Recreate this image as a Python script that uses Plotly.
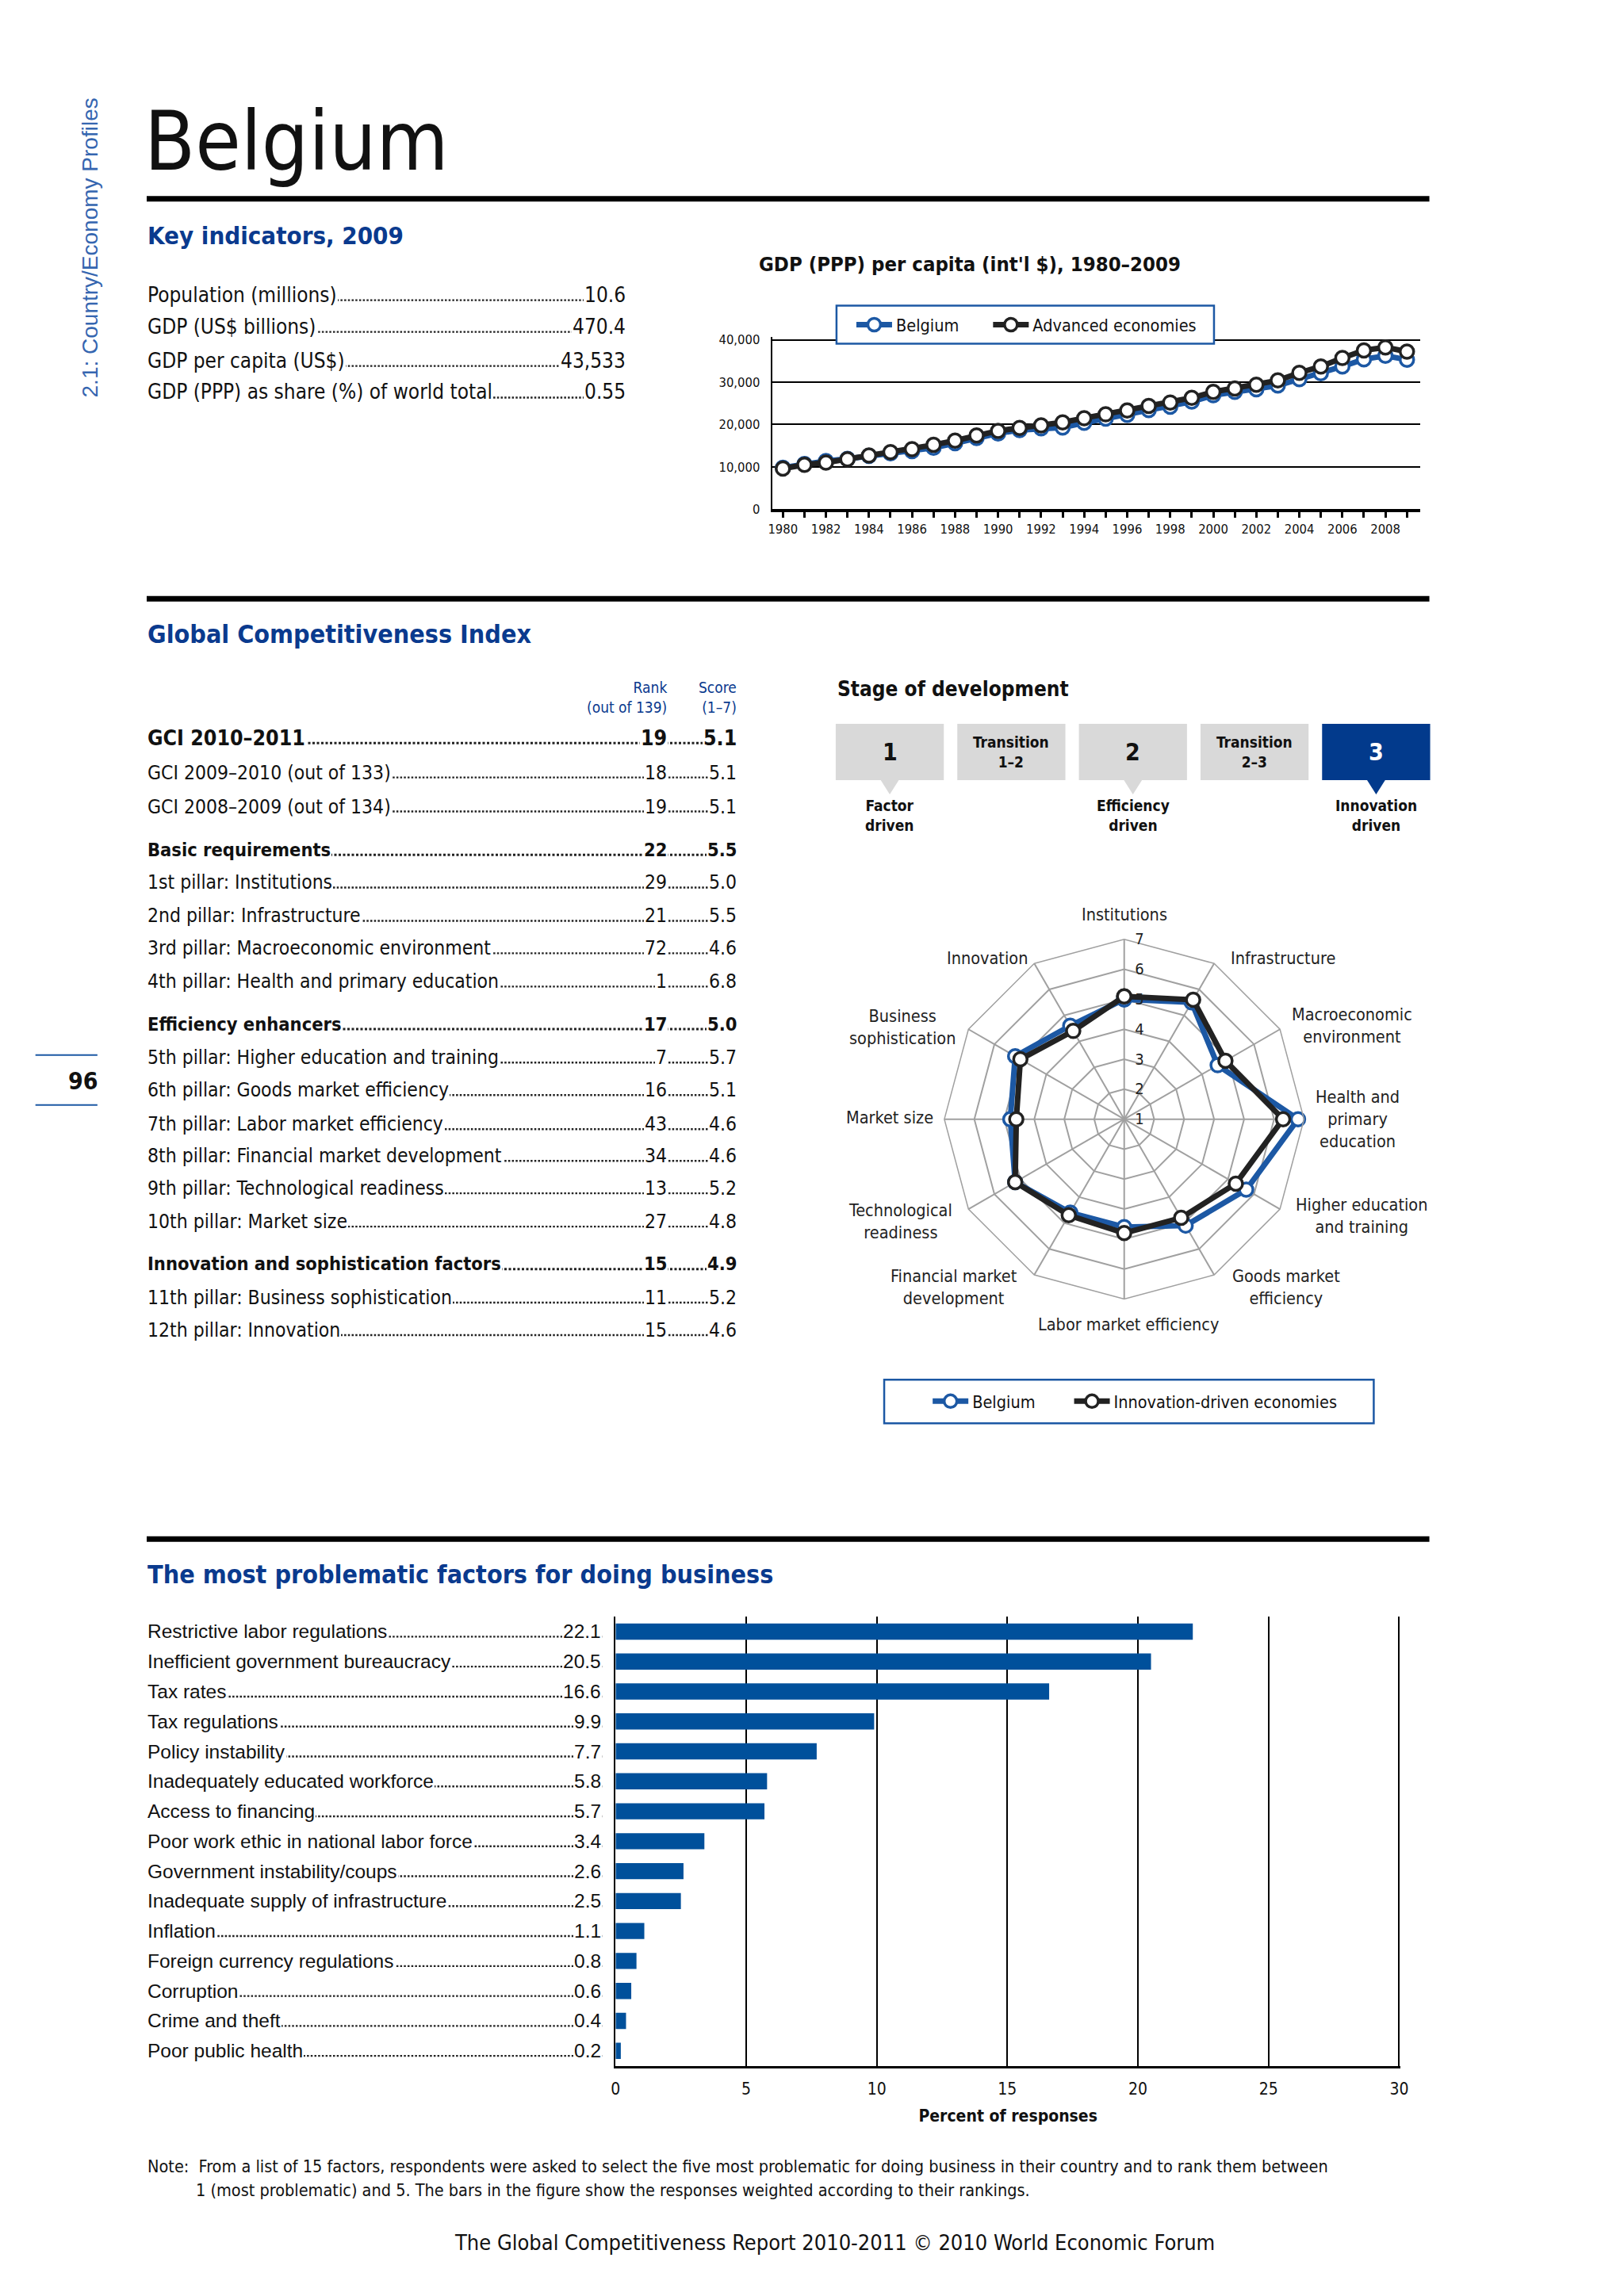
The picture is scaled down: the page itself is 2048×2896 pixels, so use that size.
import plotly.graph_objects as go

W, H = 2048, 2896

# ======================= DATA =======================
country_name = "Belgium"
side_caption = "2.1: Country/Economy Profiles"
page_number = "96"

key_title = "Key indicators, 2009"
key_labels = [
    "Population (millions)",
    "GDP (US$ billions)",
    "GDP per capita (US$)",
    "GDP (PPP) as share (%) of world total",
]
key_values = ["10.6", "470.4", "43,533", "0.55"]

gdp_title = "GDP (PPP) per capita (int'l $), 1980–2009"
gdp_years = [1980, 1981, 1982, 1983, 1984, 1985, 1986, 1987, 1988, 1989,
             1990, 1991, 1992, 1993, 1994, 1995, 1996, 1997, 1998, 1999,
             2000, 2001, 2002, 2003, 2004, 2005, 2006, 2007, 2008, 2009]
gdp_year_labels = ["1980", "", "1982", "", "1984", "", "1986", "", "1988", "",
                   "1990", "", "1992", "", "1994", "", "1996", "", "1998", "",
                   "2000", "", "2002", "", "2004", "", "2006", "", "2008", ""]
gdp_belgium = [9800, 10700, 11400, 11900, 12600, 13200, 13700, 14500, 15600, 16800,
               17900, 18700, 19100, 19300, 20400, 21400, 22300, 23400, 24200, 25400,
               26900, 27700, 28300, 29200, 30700, 32100, 33700, 35400, 36200, 35300]
gdp_advanced = [9600, 10500, 11000, 11800, 12700, 13500, 14200, 15200, 16200, 17400,
                18500, 19200, 19800, 20500, 21500, 22400, 23300, 24400, 25200, 26300,
                27700, 28500, 29400, 30400, 32200, 33700, 35700, 37500, 38200, 37200]
gdp_value_ticks = [0, 10000, 20000, 30000, 40000]
gdp_series_names = ["Belgium", "Advanced economies"]

gci_title = "Global Competitiveness Index"
gci_rank_header = "Rank<br>(out of 139)"
gci_score_header = "Score<br>(1–7)"
gci_labels = [
    "GCI 2010–2011",
    "GCI 2009–2010 (out of 133)",
    "GCI 2008–2009 (out of 134)",
    "Basic requirements",
    "1st pillar: Institutions",
    "2nd pillar: Infrastructure",
    "3rd pillar: Macroeconomic environment",
    "4th pillar: Health and primary education",
    "Efficiency enhancers",
    "5th pillar: Higher education and training",
    "6th pillar: Goods market efficiency",
    "7th pillar: Labor market efficiency",
    "8th pillar: Financial market development",
    "9th pillar: Technological readiness",
    "10th pillar: Market size",
    "Innovation and sophistication factors",
    "11th pillar: Business sophistication",
    "12th pillar: Innovation",
]
gci_ranks = ["19", "18", "19", "22", "29", "21", "72", "1", "17", "7", "16", "43",
             "34", "13", "27", "15", "11", "15"]
gci_scores = ["5.1", "5.1", "5.1", "5.5", "5.0", "5.5", "4.6", "6.8", "5.0", "5.7",
              "5.1", "4.6", "4.6", "5.2", "4.8", "4.9", "5.2", "4.6"]

stage_title = "Stage of development"
stage_names = ["1", "Transition<br>1–2", "2", "Transition<br>2–3", "3"]
stage_captions = ["Factor<br>driven", "", "Efficiency<br>driven", "", "Innovation<br>driven"]
current_stage = "3"

pillar_names = ["Institutions", "Infrastructure", "Macroeconomic<br>environment",
                "Health and<br>primary<br>education", "Higher education<br>and training",
                "Goods market<br>efficiency", "Labor market efficiency",
                "Financial market<br>development", "Technological<br>readiness",
                "Market size", "Business<br>sophistication", "Innovation"]
belgium_scores = [5.0, 5.5, 4.6, 6.8, 5.7, 5.1, 4.6, 4.6, 5.2, 4.8, 5.2, 4.6]
innovation_scores = [5.1, 5.6, 4.9, 6.3, 5.3, 4.8, 4.8, 4.7, 5.2, 4.6, 5.0, 4.4]
score_ticks = [1, 2, 3, 4, 5, 6, 7]
radar_series_names = ["Belgium", "Innovation-driven economies"]

factors_title = "The most problematic factors for doing business"
factor_names = [
    "Restrictive labor regulations",
    "Inefficient government bureaucracy",
    "Tax rates",
    "Tax regulations",
    "Policy instability",
    "Inadequately educated workforce",
    "Access to financing",
    "Poor work ethic in national labor force",
    "Government instability/coups",
    "Inadequate supply of infrastructure",
    "Inflation",
    "Foreign currency regulations",
    "Corruption",
    "Crime and theft",
    "Poor public health",
]
factor_values = [22.1, 20.5, 16.6, 9.9, 7.7, 5.8, 5.7, 3.4, 2.6, 2.5, 1.1, 0.8, 0.6, 0.4, 0.2]
percent_ticks = [0, 5, 10, 15, 20, 25, 30]
percent_axis_title = "Percent of responses"

note_lines = [
    "Note:  From a list of 15 factors, respondents were asked to select the five most problematic for doing business in their country and to rank them between",
    "1 (most problematic) and 5. The bars in the figure show the responses weighted according to their rankings.",
]
footer_text = "The Global Competitiveness Report 2010-2011 © 2010 World Economic Forum"

# ======================= STYLE / LAYOUT =======================
NARROW = "DejaVu Sans Condensed, Liberation Sans Narrow, Arial Narrow, sans-serif"
SANS = "Liberation Sans, Arial, Helvetica, sans-serif"
HEAD_BLUE = "#0a3a8e"
SIDE_BLUE = "#3566b0"
LINE_BLUE = "#1c58a4"
BAR_BLUE = "#00509b"
BOX_BLUE = "#023a8c"
BOX_GREY = "#d9d9d9"
DARK = "#222222"
GRID_GREY = "#a0a0a0"


def X(p):
    return ((p - 7.4) / 0.99) / W


def Y(p):
    return 1 - ((p - 1.1) / 0.9957) / H


S = 2048 / 1109  # preview-to-page scale used for the radar label placement

ann = []
shapes = []


def text(x, y, s, size, family=NARROW, color="#111111", xanchor="left",
         yanchor="middle", bg=None, xref="paper", yref="paper", **kw):
    d = dict(x=x, y=y, xref=xref, yref=yref, text=s, showarrow=False,
             xanchor=xanchor, yanchor=yanchor, borderwidth=0, borderpad=1,
             font=dict(family=family, size=size, color=color))
    if bg:
        d["bgcolor"] = bg
    d.update(kw)
    ann.append(d)


def hline(x0, x1, y, width, color="black", dash=None, yref="paper"):
    ln = dict(color=color, width=width)
    if dash:
        ln["dash"] = dash
    shapes.append(dict(type="line", xref="paper", yref=yref, x0=x0, x1=x1,
                       y0=y, y1=y, line=ln, layer="below"))


DOTS = "2.5px,2.2px"

# ---- header ----
text(X(115), Y(309), side_caption, 28, family=SANS, color=SIDE_BLUE,
     xanchor="center", textangle=-90)
text(X(182), Y(174), country_name, 104, color="#111111")
hline(X(186), X(1800), Y(247), 7)

# page number
text(X(126), Y(1361), "<b>" + page_number + "</b>", 30, xanchor="right")
hline(X(46), X(124), Y(1328), 2, color=LINE_BLUE)
hline(X(46), X(124), Y(1391), 2, color=LINE_BLUE)

# ---- key indicators ----
text(X(186), Y(293), "<b>" + key_title + "</b>", 31, color=HEAD_BLUE)
key_rows_y = [368, 408, 451, 491]
for lab, val, yc in zip(key_labels, key_values, key_rows_y):
    size = 26
    hline(X(186), X(790), Y(yc + 0.35 * size - 2), 2.4, color="#222", dash=DOTS)
    text(X(186), Y(yc), lab, size, bg="white")
    text(X(790), Y(yc), val, size, xanchor="right", bg="white")

# ---- GDP chart title + legend box ----
text(X(1222), Y(329), "<b>" + gdp_title + "</b>", 25.5, xanchor="center")
shapes.append(dict(type="rect", xref="paper", yref="paper", x0=X(1054), x1=X(1529),
                   y0=Y(430), y1=Y(382), line=dict(color=LINE_BLUE, width=2.5),
                   fillcolor="white", layer="above"))

# ---- GCI ----
hline(X(186), X(1800), Y(752), 7)
text(X(186), Y(797), "<b>" + gci_title + "</b>", 32, color=HEAD_BLUE)
text(X(842), Y(876), gci_rank_header, 19, color=HEAD_BLUE, xanchor="right", align="right")
text(X(929), Y(876), gci_score_header, 19, color=HEAD_BLUE, xanchor="right", align="right")
gci_rows_y = [927, 971, 1014, 1069, 1110, 1152, 1193, 1235, 1289, 1331, 1372, 1415,
              1455, 1496, 1538, 1592, 1634, 1675]
gci_strong_rows = [0, 3, 8, 15]
for i, (lab, rk, sc, yc) in enumerate(zip(gci_labels, gci_ranks, gci_scores, gci_rows_y)):
    strong = i in gci_strong_rows
    size = 26.5 if i == 0 else (23.5 if strong else 24.5)
    wrap = (lambda s: "<b>" + s + "</b>") if strong else (lambda s: s)
    hline(X(186), X(929), Y(yc + 0.35 * size - 2), 3 if strong else 2.4, color="#222",
          dash="3px,2.5px" if strong else DOTS)
    text(X(186), Y(yc), wrap(lab), size, bg="white")
    text(X(842), Y(yc), wrap(rk), size, xanchor="right", bg="white")
    text(X(929), Y(yc), wrap(sc), size, xanchor="right", bg="white")

# ---- stage of development ----
text(X(1054), Y(866), "<b>" + stage_title + "</b>", 26)
box_left0, box_w, box_pitch = 1053, 136, 153
box_top, box_bot = 910, 981
for i, (nm, cap) in enumerate(zip(stage_names, stage_captions)):
    x0 = box_left0 + i * box_pitch
    cx = x0 + box_w / 2
    active = nm == current_stage
    fill = BOX_BLUE if active else BOX_GREY
    shapes.append(dict(type="rect", xref="paper", yref="paper", x0=X(x0), x1=X(x0 + box_w),
                       y0=Y(box_bot), y1=Y(box_top), line=dict(width=0), fillcolor=fill,
                       layer="below"))
    is_big = "<br>" not in nm
    text(X(cx), Y((box_top + box_bot) / 2), "<b>" + nm + "</b>", 30 if is_big else 19,
         color="white" if active else "#111111", xanchor="center")
    if cap:
        path = "M {a},{b} L {c},{b} L {d},{e} Z".format(
            a=X(cx - 12), b=Y(box_bot - 1), c=X(cx + 12), d=X(cx), e=Y(box_bot + 18))
        shapes.append(dict(type="path", xref="paper", yref="paper", path=path,
                           fillcolor=fill, line=dict(width=0), layer="below"))
        text(X(cx), Y(1026), "<b>" + cap + "</b>", 19, xanchor="center")

# ---- radar pillar labels (centred, multi-line) ----
radar_label_pos = [(767, 623), (875, 653), (922, 699), (926, 763), (928.5, 829),
                   (877, 878), (769.5, 903), (650.5, 878), (614.5, 833), (607, 762),
                   (615.5, 700), (673.5, 653)]
for nm, (lx, ly) in zip(pillar_names, radar_label_pos):
    text(X(lx * S), Y(ly * S), nm, 21.5, color="#222", xanchor="center", align="center")

# radar legend box
shapes.append(dict(type="rect", xref="paper", yref="paper", x0=X(1114), x1=X(1730),
                   y0=Y(1793), y1=Y(1738), line=dict(color=LINE_BLUE, width=2.5),
                   fillcolor="white", layer="above"))

# ---- problematic factors ----
hline(X(186), X(1800), Y(1939), 7)
text(X(186), Y(1984), "<b>" + factors_title + "</b>", 32, color=HEAD_BLUE)
for i, (nm, v) in enumerate(zip(factor_names, factor_values)):
    shapes.append(dict(type="line", xref="paper", yref="y2", x0=X(186), x1=X(759),
                       y0=i + 0.17, y1=i + 0.17,
                       line=dict(color="#222", width=2.4, dash=DOTS), layer="below"))
    text(X(186), nm, nm, 24.5, family=SANS, bg="white", yref="y2")
    text(X(759), nm, "{:.1f}".format(v), 24.5, family=SANS, bg="white", yref="y2",
         xanchor="right")

# note & footer
text(X(186), Y(2731), note_lines[0], 21.5)
text(X(247), Y(2761), note_lines[1], 21.5)
text(X(1052), Y(2827), footer_text, 27, xanchor="center")

# ======================= TRACES =======================
fig = go.Figure()

series_colors = [LINE_BLUE, DARK]
gdp_legends = ["legend", "legend2"]
for name, vals, col, lg in zip(gdp_series_names, [gdp_belgium, gdp_advanced],
                               series_colors, gdp_legends):
    fig.add_trace(go.Scatter(
        x=gdp_years, y=vals, name=name, mode="lines+markers", xaxis="x", yaxis="y",
        line=dict(color=col, width=7),
        marker=dict(size=17, color="white", line=dict(color=col, width=3.5)),
        legend=lg, cliponaxis=False, hoverinfo="skip"))

radar_legends = ["legend3", "legend4"]
for name, vals, col, lg in zip(radar_series_names, [belgium_scores, innovation_scores],
                               series_colors, radar_legends):
    fig.add_trace(go.Scatterpolar(
        r=vals + vals[:1], theta=pillar_names + pillar_names[:1], name=name,
        mode="lines+markers", subplot="polar",
        line=dict(color=col, width=7),
        marker=dict(size=17, color="white", line=dict(color=col, width=3.5)),
        legend=lg, cliponaxis=False, hoverinfo="skip"))

fig.add_trace(go.Bar(
    x=factor_values, y=factor_names, orientation="h", xaxis="x2", yaxis="y2",
    marker=dict(color=BAR_BLUE, line=dict(width=0)), width=0.54, showlegend=False,
    hoverinfo="skip"))


def legend_at(x, y):
    return dict(x=X(x), y=Y(y), xanchor="left", yanchor="middle", orientation="h",
                bgcolor="rgba(0,0,0,0)", borderwidth=0, font=dict(size=21.5),
                itemwidth=45)


# ======================= LAYOUT =======================
fig.update_layout(
    width=W, height=H, margin=dict(l=0, r=0, t=0, b=0),
    paper_bgcolor="white", plot_bgcolor="white",
    font=dict(family=NARROW, color="#111111"),
    showlegend=True,
    xaxis=dict(domain=[X(973), X(1788)], range=[1979.5, 2009.6], anchor="y",
               tickmode="array", tickvals=gdp_years, ticktext=gdp_year_labels,
               ticks="outside", ticklen=7, tickwidth=2.5, tickcolor="black",
               showline=True, linecolor="black", linewidth=4, showgrid=False,
               zeroline=False, tickfont=dict(size=16.5)),
    yaxis=dict(domain=[Y(639), Y(421)], range=[0, 40750], anchor="x",
               tickmode="array", tickvals=gdp_value_ticks, tickformat=",",
               showline=True, linecolor="black", linewidth=2,
               showgrid=True, gridcolor="black", gridwidth=1.5, zeroline=False,
               ticks="", ticklabelstandoff=10, tickfont=dict(size=16.5)),
    xaxis2=dict(domain=[X(776), X(1763.6)], range=[0, 30.05], anchor="y2",
                tickmode="array", tickvals=percent_ticks,
                showgrid=True, gridcolor="black", gridwidth=1.5,
                showline=True, linecolor="black", linewidth=3, zeroline=False,
                ticks="", ticklabelstandoff=8, tickfont=dict(size=21),
                title=dict(text="<b>" + percent_axis_title + "</b>",
                           font=dict(size=21), standoff=16)),
    yaxis2=dict(domain=[Y(2604), Y(2037)], anchor="x2", type="category",
                categoryorder="array", categoryarray=factor_names,
                autorange="reversed", showticklabels=False, showgrid=False,
                showline=True, linecolor="black", linewidth=2, ticks="", zeroline=False),
    polar=dict(
        domain=dict(x=[X(1189), X(1643)], y=[Y(1636), Y(1182)]),
        bgcolor="white", gridshape="linear",
        radialaxis=dict(range=[1, 7], tickmode="array", tickvals=score_ticks, angle=90,
                        tickangle=90, showline=False, gridcolor=GRID_GREY, gridwidth=1.5,
                        ticks="outside", ticklen=9, tickcolor="rgba(0,0,0,0)",
                        tickfont=dict(size=20, color="#222")),
        angularaxis=dict(rotation=90, direction="clockwise", gridcolor=GRID_GREY,
                         gridwidth=1.5, showline=True, linecolor=GRID_GREY, linewidth=1.5,
                         ticks="", showticklabels=False),
    ),
    legend=legend_at(1074, 406),
    legend2=legend_at(1246, 406),
    legend3=legend_at(1170, 1765),
    legend4=legend_at(1348, 1765),
    annotations=ann,
    shapes=shapes,
)

fig.write_html("out.html",
               config={"displayModeBar": False},
               post_script="document.body.style.margin='0px';"
                           "document.body.style.overflow='hidden';")
